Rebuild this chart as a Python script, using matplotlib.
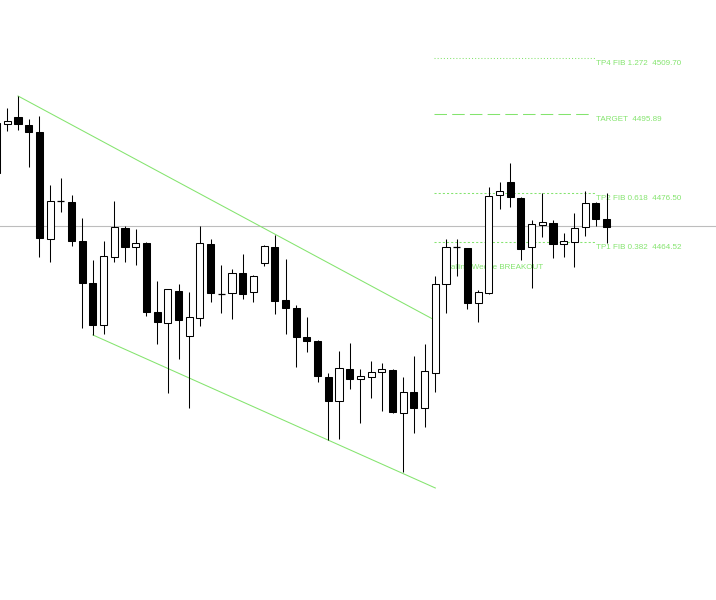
import matplotlib
import matplotlib.pyplot as plt
from matplotlib.patches import Rectangle

matplotlib.use("Agg")

# OHLC (candle index 0 is cut by the left edge)
opens = [4493.77, 4493.52, 4495.31, 4493.28, 4491.63, 4465.33, 4474.80, 4474.47,
         4464.84, 4454.47, 4444.32, 4460.84, 4468.03, 4463.30, 4464.28, 4447.51,
         4444.81, 4452.66, 4441.55, 4445.89, 4464.10, 4451.90, 4452.02, 4456.92,
         4452.26, 4459.37, 4463.44, 4450.38, 4448.34, 4441.38, 4440.40, 4431.57,
         4425.62, 4433.46, 4430.94, 4431.57, 4432.65, 4433.22, 4422.75, 4427.75,
         4423.83, 4432.55, 4454.23, 4463.35, 4463.05, 4449.57, 4452.02, 4476.12,
         4479.38, 4475.45, 4463.44, 4468.76, 4469.33, 4464.03, 4464.52, 4468.35,
         4474.08, 4470.16]
highs = [4493.77, 4497.44, 4500.39, 4494.67, 4495.48, 4478.57, 4480.21, 4476.12,
         4470.40, 4460.18, 4464.91, 4474.65, 4468.52, 4467.71, 4464.59, 4455.03,
         4453.07, 4454.23, 4452.41, 4468.52, 4465.33, 4458.96, 4457.98, 4461.65,
         4456.50, 4463.86, 4466.31, 4460.43, 4449.15, 4446.28, 4440.57, 4432.41,
         4437.87, 4439.76, 4433.39, 4435.50, 4434.86, 4433.34, 4431.43, 4436.65,
         4439.52, 4456.26, 4465.26, 4465.26, 4463.12, 4452.83, 4478.00, 4479.23,
         4483.89, 4475.63, 4469.99, 4476.53, 4469.99, 4466.73, 4471.78, 4477.17,
         4474.40, 4476.68]
lows = [4481.51, 4491.88, 4492.05, 4482.91, 4460.99, 4459.77, 4472.02, 4463.69,
        4443.59, 4441.80, 4441.97, 4459.62, 4459.57, 4458.96, 4446.53, 4439.59,
        4427.50, 4435.84, 4423.83, 4444.00, 4449.96, 4447.26, 4445.65, 4450.62,
        4449.96, 4458.71, 4446.94, 4441.97, 4433.88, 4437.70, 4430.35, 4416.06,
        4416.23, 4428.56, 4420.30, 4426.28, 4423.24, 4422.68, 4408.14, 4417.70,
        4419.32, 4427.90, 4447.12, 4456.26, 4448.10, 4445.06, 4451.85, 4472.61,
        4473.10, 4460.18, 4453.24, 4465.75, 4460.60, 4460.99, 4458.39, 4466.07,
        4468.52, 4464.28]
closes = [4481.51, 4494.33, 4493.45, 4491.63, 4465.65, 4474.72, 4474.72, 4464.84,
          4454.47, 4444.17, 4461.16, 4468.35, 4463.44, 4464.28, 4447.51, 4445.06,
          4453.00, 4445.47, 4446.14, 4464.28, 4452.02, 4451.85, 4456.92, 4451.85,
          4456.33, 4463.61, 4450.20, 4448.34, 4441.38, 4440.40, 4431.75, 4425.69,
          4433.63, 4431.01, 4431.82, 4432.65, 4433.39, 4422.85, 4427.75, 4423.83,
          4433.04, 4454.25, 4463.30, 4463.30, 4449.57, 4452.26, 4475.94, 4477.17,
          4475.55, 4462.81, 4468.93, 4469.57, 4464.03, 4464.84, 4467.95, 4474.08,
          4470.23, 4468.35]

bid = 4468.45

# falling wedge (index, price)
upper_wedge = [(2, 4500.39), (40.8, 4445.65)]
lower_wedge = [(9, 4441.80), (41, 4404.29)]

fib_names = ["TP4 FIB 1.272", "TARGET", "TP2 FIB 0.618", "TP1 FIB 0.382"]
fib_levels = [4509.70, 4495.89, 4476.50, 4464.52]
fib_start, fib_end = 40.9, 55.9

breakout_text = "Falling Wedge BREAKOUT"
breakout_pos = (42.0, 4458.39)

GREEN = "#84E46E"


def draw_candles(ax):
    w = 0.66
    for i, (o, h, l, c) in enumerate(zip(opens, highs, lows, closes)):
        ax.vlines(i, l, h, color="black", lw=0.75, zorder=3)
        lo, hi = min(o, c), max(o, c)
        if hi - lo < 0.3:
            ax.hlines(c, i - w / 2, i + w / 2, color="black", lw=0.9, zorder=4)
            continue
        face = "white" if c > o else "black"
        ax.add_patch(Rectangle((i - w / 2, lo), w, hi - lo, facecolor=face,
                               edgecolor="black", lw=0.75, zorder=4))


def main():
    fig = plt.figure(figsize=(7.16, 6), dpi=100)
    ax = fig.add_axes([0, 0, 1, 1])
    ax.set_xlim(0.318, 67.23)
    ax.set_ylim(4376.83, 4523.92)
    ax.axis("off")

    ax.axhline(bid, color="#BDBDBD", lw=0.8, zorder=1)

    for seg in (upper_wedge, lower_wedge):
        ax.plot([p[0] for p in seg], [p[1] for p in seg], color=GREEN,
                lw=0.75, zorder=2)

    styles = [(0, (1, 2)), (0, (12, 5)), (0, (2, 2)), (0, (2, 2))]
    for name, lvl, ls in zip(fib_names, fib_levels, styles):
        end = fib_end - 0.3 if name == "TARGET" else fib_end
        ax.plot([fib_start, end], [lvl, lvl], color=GREEN, lw=0.75,
                linestyle=ls, zorder=2)
        ax.annotate(f"{name}  {lvl:.2f}", (fib_end + 0.05, lvl),
                    xytext=(1, -5), textcoords="offset pixels",
                    color=GREEN, fontsize=5.8, family="Liberation Sans",
                    ha="left", va="center", zorder=2)

    ax.text(breakout_pos[0], breakout_pos[1], breakout_text, color=GREEN,
            fontsize=5.8, family="Liberation Sans", ha="left", va="center",
            zorder=2)

    draw_candles(ax)

    fig.savefig("out.png", dpi=100, facecolor="white")


if __name__ == "__main__":
    main()
